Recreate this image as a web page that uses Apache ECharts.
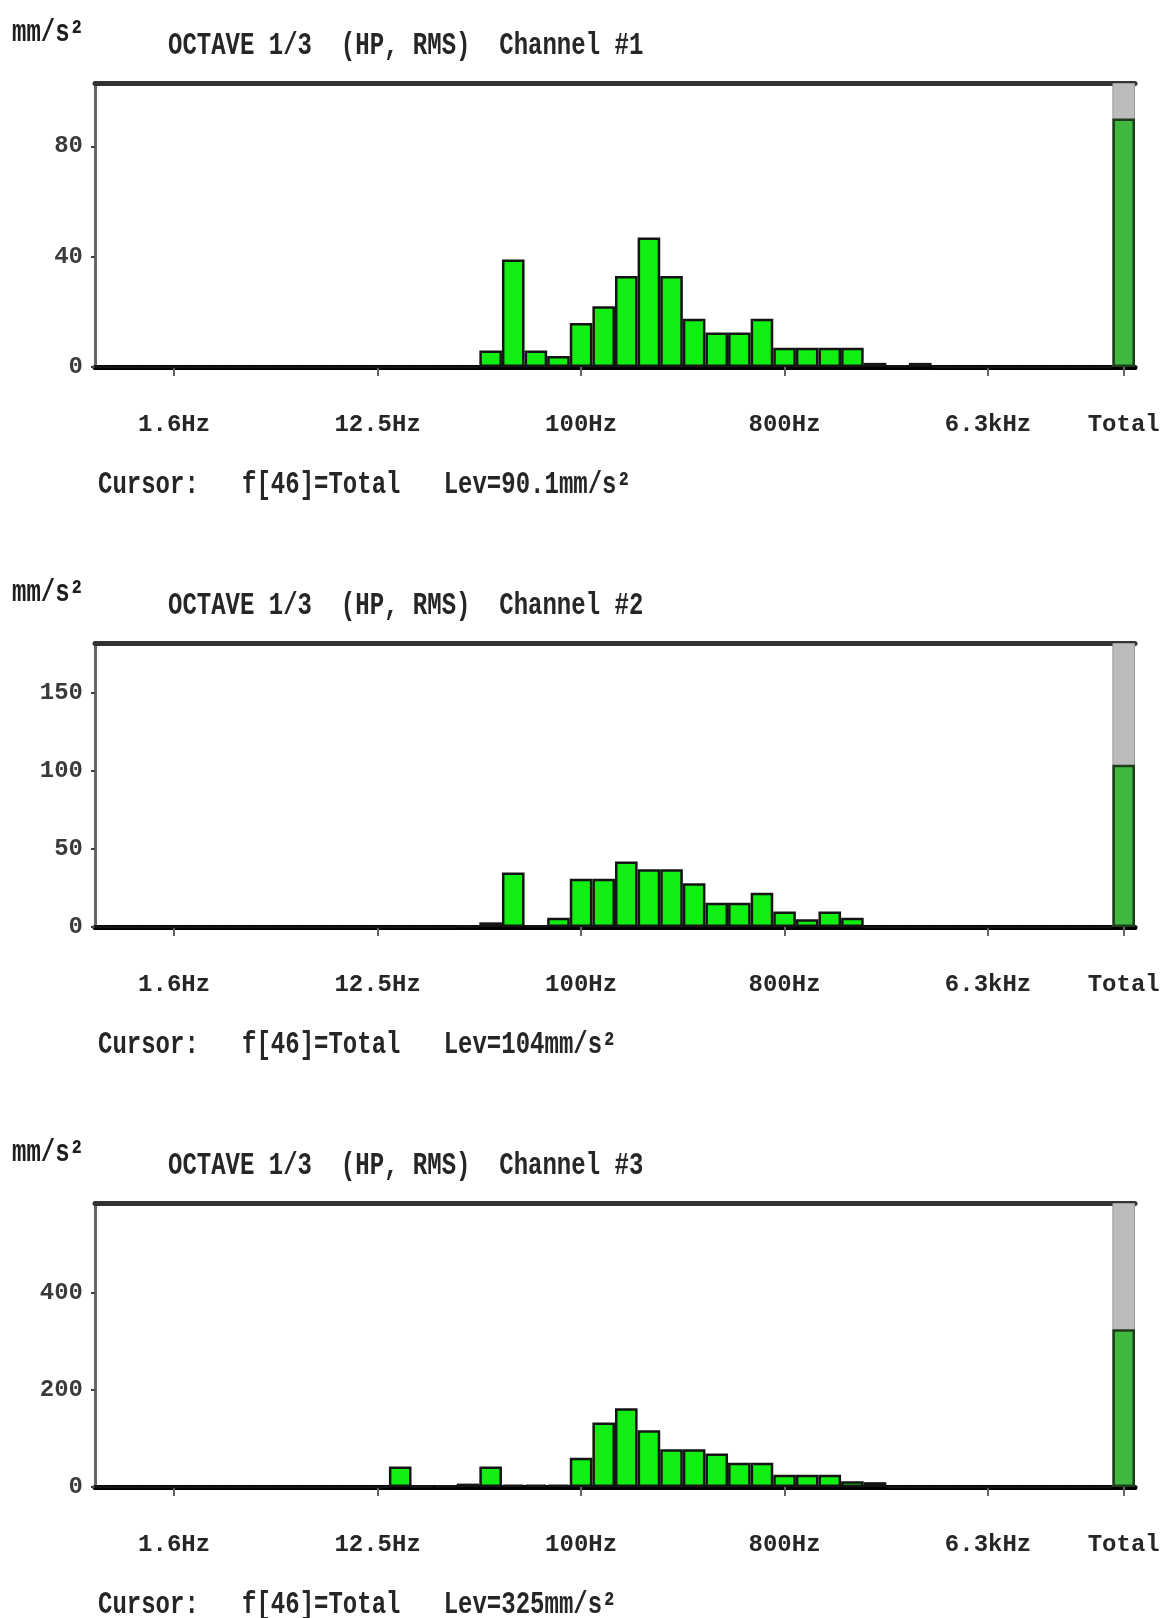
<!DOCTYPE html>
<html>
<head>
<meta charset="utf-8">
<script src="https://cdn.jsdelivr.net/npm/echarts@6/dist/echarts.min.js"></script>
<style>
html,body{margin:0;padding:0;background:#fff;}
#c{width:1168px;height:1618px;}
</style>
</head>
<body>
<div id="c"></div>
<script>
// 1/3-octave band categories (46 bins, last is Total)
const bands = ['0.8Hz','1Hz','1.25Hz','1.6Hz','2Hz','2.5Hz','3.15Hz','4Hz','5Hz','6.3Hz',
  '8Hz','10Hz','12.5Hz','16Hz','20Hz','25Hz','31.5Hz','40Hz','50Hz','63Hz',
  '80Hz','100Hz','125Hz','160Hz','200Hz','250Hz','315Hz','400Hz','500Hz','630Hz',
  '800Hz','1kHz','1.25kHz','1.6kHz','2kHz','2.5kHz','3.15kHz','4kHz','5kHz','6.3kHz',
  '8kHz','10kHz','12.5kHz','16kHz','20kHz','Total'];
const tickLabels = ['1.6Hz','12.5Hz','100Hz','800Hz','6.3kHz','Total'];

const channel1 = [0,0,0,0,0,0,0,0,0,0, 0,0,0,0,0,0,0,6,39,6,
  4,16,22,33,47,33,17.5,12.5,12.5,17.5, 7,7,7,7,1.5,0.5,1.5,0,0,0, 0,0,0,0,0,90.1];
const channel2 = [0,0,0,0,0,0,0,0,0,0, 0,0,0,0,0,0,0.5,3,35,1,
  6,31,31,42,37,37,28,15.5,15.5,22, 10,5,10,6,0,0,0,0,0,0, 0,0,0,0,0,104];
const channel3 = [0,0,0,0,0,0,0,0,0,0, 0,0,0,42,2,3,7,42,5,5,
  5,60,133,162,117,78,78,69,50,50, 25,25,25,12,10,0,0,0,0,0, 0,0,0,0,0,325];

const channelNames = ['Channel #1','Channel #2','Channel #3'];
const levels = ['90.1mm/s\u00b2','104mm/s\u00b2','325mm/s\u00b2'];
const yMax = [103, 182, 585];          // axis top (grey "max" part of Total bar)
const yInterval = [40, 50, 200];

const seriesData = [channel1, channel2, channel3];
const FONT = "'Liberation Mono','DejaVu Sans Mono',monospace";
const STEP = 560, TOP0 = 83, H = 284, LEFT = 95, W = 1040;

const showIdx = (i) => tickLabels.indexOf(bands[i]) >= 0;

const grids = [], xAxes = [], yAxes = [], series = [], graphics = [];
for (let k = 0; k < 3; k++) {
  grids.push({left: LEFT, top: TOP0 + STEP * k, width: W, height: H, show: false});
  xAxes.push({
    gridIndex: k, type: 'category', data: bands, position: 'bottom',
    axisLine: {show: true, lineStyle: {color: '#000', width: 5}},
    axisTick: {show: true, alignWithLabel: true, interval: (i) => showIdx(i), length: 9,
      lineStyle: {color: '#666', width: 2}},
    axisLabel: {interval: (i) => showIdx(i), margin: 46, fontFamily: FONT, fontSize: 24,
      fontWeight: 'bold', color: '#262626'},
    splitLine: {show: false}
  });
  xAxes.push({
    gridIndex: k, type: 'category', data: bands, position: 'top',
    axisLine: {show: true, lineStyle: {color: '#333', width: 5}},
    axisTick: {show: false}, axisLabel: {show: false}, splitLine: {show: false}
  });
  yAxes.push({
    gridIndex: k, type: 'value', min: 0, max: yMax[k], interval: yInterval[k],
    axisLine: {show: true, lineStyle: {color: '#666', width: 3}},
    axisTick: {show: true, length: 4, lineStyle: {color: '#444', width: 2}},
    axisLabel: {showMaxLabel: false, margin: 12, fontFamily: FONT, fontSize: 24,
      fontWeight: 'bold', color: '#3a3a3a'},
    splitLine: {show: false}
  });
  const last = bands.length - 1;
  series.push({
    type: 'bar', xAxisIndex: 2 * k, yAxisIndex: k, barCategoryGap: '0%', barGap: '-100%',
    silent: true, z: 1,
    data: bands.map((b, i) => i === last ? yMax[k] : '-'),
    itemStyle: {color: '#bcbcbc', borderColor: '#9a9a9a', borderWidth: 1}
  });
  series.push({
    type: 'bar', xAxisIndex: 2 * k, yAxisIndex: k, barCategoryGap: '0%', barGap: '-100%',
    silent: true, z: 2,
    data: seriesData[k].map((v, i) => i === last
      ? {value: v, itemStyle: {color: '#40b840', borderColor: '#1d3d1d', borderWidth: 2.5}}
      : v),
    itemStyle: {color: '#11ee11', borderColor: '#141414', borderWidth: 2.5}
  });
  const baseY = STEP * k;
  graphics.push({type: 'text', x: 12, y: 33 + baseY, scaleY: 1.3,
    style: {text: 'mm/s\u00b2', font: 'bold 24px ' + FONT, fill: '#1e1e1e', textVerticalAlign: 'middle'}});
  graphics.push({type: 'text', x: 168, y: 46 + baseY, scaleY: 1.3,
    style: {text: 'OCTAVE 1/3  (HP, RMS)  ' + channelNames[k], font: 'bold 24px ' + FONT, fill: '#262626',
      textVerticalAlign: 'middle'}});
  graphics.push({type: 'text', x: 98, y: 485 + baseY, scaleY: 1.3,
    style: {text: 'Cursor:   f[46]=Total   Lev=' + levels[k], font: 'bold 24px ' + FONT, fill: '#262626',
      textVerticalAlign: 'middle'}});
}

const chart = echarts.init(document.getElementById('c'), null, {renderer: 'canvas'});
chart.setOption({
  animation: false,
  backgroundColor: '#fff',
  grid: grids, xAxis: xAxes, yAxis: yAxes, series: series,
  graphic: graphics
});
</script>
</body>
</html>
